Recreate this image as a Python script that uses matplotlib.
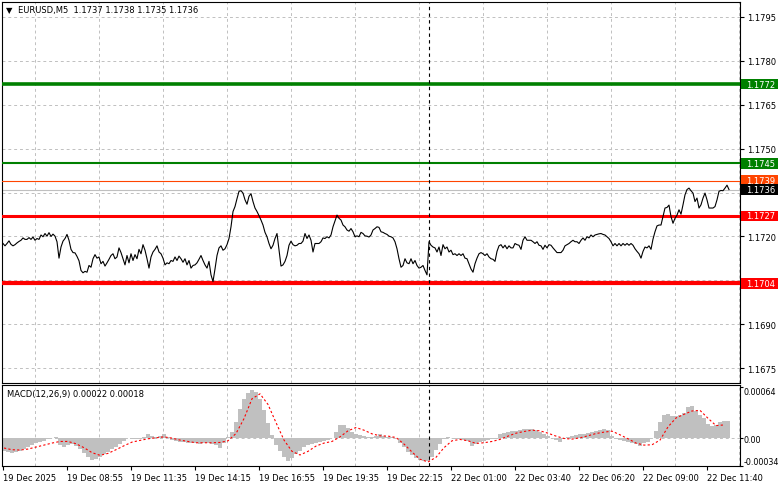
import numpy as np
import matplotlib.pyplot as plt
from matplotlib.patches import Rectangle
from matplotlib.transforms import blended_transform_factory

plt.rcParams['font.family'] = ['DejaVu Sans']
plt.rcParams['font.size'] = 6

# EURUSD M5 close prices, one value per bar
close = [
    1.17176, 1.17168, 1.17176, 1.17185, 1.17173, 1.17168, 1.17172, 1.17178, 1.17183, 1.17187,
    1.17195, 1.17190, 1.17190, 1.17196, 1.17190, 1.17198, 1.17187, 1.17193, 1.17190, 1.17205,
    1.17199, 1.17210, 1.17201, 1.17213, 1.17200, 1.17208, 1.17201, 1.17182, 1.17126, 1.17164,
    1.17184, 1.17193, 1.17207, 1.17187, 1.17156, 1.17145, 1.17144, 1.17132, 1.17117, 1.17084,
    1.17076, 1.17081, 1.17078, 1.17101, 1.17095, 1.17124, 1.17138, 1.17126, 1.17130, 1.17107,
    1.17115, 1.17099, 1.17110, 1.17122, 1.17135, 1.17141, 1.17124, 1.17130, 1.17161, 1.17145,
    1.17124, 1.17103, 1.17135, 1.17110, 1.17141, 1.17118, 1.17138, 1.17124, 1.17156, 1.17141,
    1.17172, 1.17153, 1.17124, 1.17092, 1.17130, 1.17147, 1.17156, 1.17168, 1.17147, 1.17141,
    1.17126, 1.17103, 1.17110, 1.17107, 1.17118, 1.17115, 1.17130, 1.17118, 1.17133, 1.17124,
    1.17112, 1.17124, 1.17103, 1.17118, 1.17092, 1.17101, 1.17103, 1.17110, 1.17122, 1.17135,
    1.17118, 1.17103, 1.17092, 1.17115, 1.17069, 1.17046, 1.17089, 1.17135, 1.17161, 1.17168,
    1.17153, 1.17158, 1.17172, 1.17193, 1.17233, 1.17285, 1.17302, 1.17329, 1.17354, 1.17356,
    1.17348, 1.17325, 1.17310, 1.17337, 1.17346, 1.17319, 1.17297, 1.17285, 1.17271, 1.17256,
    1.17239, 1.17214, 1.17199, 1.17176, 1.17158, 1.17170, 1.17193, 1.17210, 1.17153, 1.17099,
    1.17103, 1.17115, 1.17135, 1.17170, 1.17184, 1.17172, 1.17168, 1.17170, 1.17176, 1.17176,
    1.17184, 1.17210, 1.17193, 1.17205, 1.17187, 1.17147, 1.17176, 1.17176, 1.17176, 1.17182,
    1.17195, 1.17193, 1.17199, 1.17195, 1.17205, 1.17233, 1.17253, 1.17273, 1.17262, 1.17256,
    1.17239, 1.17233, 1.17222, 1.17218, 1.17227, 1.17216, 1.17199, 1.17202, 1.17199, 1.17214,
    1.17210, 1.17202, 1.17201, 1.17198, 1.17205, 1.17222, 1.17227, 1.17233, 1.17231, 1.17216,
    1.17214, 1.17210, 1.17207, 1.17201, 1.17199, 1.17195, 1.17182, 1.17158, 1.17124, 1.17095,
    1.17101, 1.17124, 1.17110, 1.17107, 1.17124, 1.17107, 1.17118, 1.17101, 1.17092, 1.17095,
    1.17101, 1.17084, 1.17069, 1.17182, 1.17170, 1.17164, 1.17161, 1.17147, 1.17164, 1.17135,
    1.17172, 1.17158, 1.17164, 1.17147, 1.17153, 1.17138, 1.17141, 1.17135, 1.17141, 1.17135,
    1.17141, 1.17126, 1.17124, 1.17107, 1.17089, 1.17078, 1.17107, 1.17126, 1.17141, 1.17145,
    1.17141, 1.17135, 1.17141, 1.17130, 1.17124,
    1.17122, 1.17115, 1.17149, 1.17168, 1.17172, 1.17161, 1.17170, 1.17158, 1.17168, 1.17161,
    1.17161, 1.17176, 1.17172, 1.17170, 1.17156, 1.17187, 1.17199, 1.17187, 1.17187, 1.17187,
    1.17182, 1.17176, 1.17182, 1.17170, 1.17168, 1.17156, 1.17170, 1.17161, 1.17172, 1.17170,
    1.17161, 1.17153, 1.17145, 1.17145, 1.17145, 1.17153, 1.17168, 1.17172, 1.17176, 1.17182,
    1.17187, 1.17182, 1.17182, 1.17176, 1.17187, 1.17195, 1.17187, 1.17199, 1.17195, 1.17205,
    1.17199, 1.17205, 1.17207, 1.17209, 1.17210, 1.17207, 1.17205, 1.17199, 1.17193, 1.17182,
    1.17168, 1.17176, 1.17168, 1.17176, 1.17168, 1.17176, 1.17170, 1.17176, 1.17170, 1.17176,
    1.17170,
    1.17158, 1.17149, 1.17141, 1.17126, 1.17149, 1.17164, 1.17161, 1.17168, 1.17156, 1.17191,
    1.17216, 1.17236, 1.17239, 1.17239, 1.17268, 1.17297, 1.17299, 1.17307, 1.17268, 1.17245,
    1.17262, 1.17273, 1.17291, 1.17276, 1.17308, 1.17342, 1.17360, 1.17365, 1.17356, 1.17348,
    1.17319, 1.17331, 1.17297, 1.17308, 1.17331, 1.17348, 1.17325, 1.17297, 1.17297, 1.17297,
    1.17302, 1.17325, 1.17354, 1.17357, 1.17356, 1.17365, 1.17375, 1.17360,
]

# MACD(12,26,9) main line, one value per two bars
macd_hist = [
    -0.000155, -0.000171, -0.000175, -0.000167, -0.000155, -0.000135, -0.000110, -0.000086, -0.000061, -0.000045,
    -0.000029, -0.000012, 0.000008, 0.000020, -0.000082, -0.000102, -0.000082, -0.000073, -0.000094, -0.000135,
    -0.000184, -0.000233, -0.000265, -0.000257, -0.000224, -0.000192, -0.000163, -0.000135, -0.000102, -0.000069,
    -0.000029, 0.000008, -0.000012, -0.000012, -0.000004, 0.000020, 0.000053, 0.000029, 0.000020, 0.000029,
    0.000053, 0.000012, -0.000020, -0.000029, -0.000041, -0.000049, -0.000053, -0.000061, -0.000061, -0.000065,
    -0.000061, -0.000061, -0.000069, -0.000086, -0.000122, -0.000061, 0.000020, 0.000082, 0.000204, 0.000367,
    0.000490, 0.000559,
    0.000600, 0.000571, 0.000490, 0.000347, 0.000192, 0.000041, -0.000082, -0.000155, -0.000224, -0.000273,
    -0.000245, -0.000196, -0.000151, -0.000110, -0.000082, -0.000069, -0.000057, -0.000045, -0.000033, -0.000020,
    0.000008, 0.000082, 0.000163, 0.000171, 0.000126, 0.000082, 0.000061, 0.000041, 0.000033, 0.000020,
    0.000012, 0.000029, 0.000049, 0.000033, 0.000020, 0.000012, 0.000000, -0.000061, -0.000110, -0.000163,
    -0.000204, -0.000245, -0.000265, -0.000282, -0.000273, -0.000224, -0.000143, -0.000069, -0.000008, 0.000012,
    0.000000, -0.000012, -0.000012, -0.000024, -0.000029, -0.000094, -0.000069, -0.000045, -0.000029, -0.000020,
    -0.000012,
    -0.000004, 0.000053, 0.000069, 0.000078, 0.000086, 0.000094, 0.000102, 0.000114, 0.000122, 0.000118,
    0.000102, 0.000082, 0.000053, 0.000029, 0.000008, -0.000020, -0.000041, -0.000008, 0.000020, 0.000033,
    0.000041, 0.000049, 0.000057, 0.000069, 0.000082, 0.000094, 0.000106, 0.000114, 0.000102, 0.000029,
    -0.000012, -0.000024, -0.000029, -0.000045, -0.000061, -0.000073, -0.000094, -0.000061, -0.000045, 0.000000,
    0.000094, 0.000204, 0.000294, 0.000298, 0.000282, 0.000277, 0.000286, 0.000314, 0.000388, 0.000404,
    0.000339, 0.000294, 0.000257, 0.000175, 0.000151, 0.000171, 0.000204, 0.000216, 0.000216,
]

# signal line, one value per four bars
macd_signal = [
    -0.000118, -0.000139, -0.000143, -0.000131, -0.000106, -0.000082, -0.000057, -0.000037, -0.000037, -0.000065,
    -0.000114, -0.000175, -0.000208, -0.000184, -0.000139, -0.000090, -0.000045, -0.000024, -0.000004, 0.000008,
    0.000020, 0.000004, -0.000020, -0.000037, -0.000053, -0.000053, -0.000053, -0.000049, -0.000029, 0.000061,
    0.000245,
    0.000490, 0.000551, 0.000420, 0.000196, -0.000020, -0.000159, -0.000204, -0.000159, -0.000094, -0.000057,
    -0.000037, 0.000020, 0.000094, 0.000135, 0.000102, 0.000057, 0.000033, 0.000029, 0.000012, -0.000069,
    -0.000167, -0.000257, -0.000290, -0.000233, -0.000114, -0.000029, -0.000012, -0.000029, -0.000061, -0.000053,
    -0.000037, -0.000012, 0.000029, 0.000065, 0.000086, 0.000102, 0.000094, 0.000065, 0.000029, 0.000000,
    -0.000008, 0.000008, 0.000033, 0.000061, 0.000078, 0.000090, 0.000045, -0.000004, -0.000057, -0.000082,
    -0.000078, -0.000020, 0.000143, 0.000253, 0.000298, 0.000339, 0.000347, 0.000249, 0.000159, 0.000167,
]

levels = [1.1772, 1.1745, 1.1739, 1.1727, 1.1704]
level_colors = ['#008000', '#008000', '#FF4500', '#FF0000', '#FF0000']
level_widths = [2.6, 1.5, 0.8, 2.2, 3.0]
last_price = 1.1736

price_ticks = [1.1675, 1.1690, 1.1705, 1.1720, 1.1735, 1.1750, 1.1765, 1.1780, 1.1795]
hidden_ticks = [1.1705, 1.1735]   # covered by the level boxes
macd_ticks = [-0.00034, 0.0, 0.00064]
macd_tick_labels = ['-0.00034', '0.00', '0.00064']
time_labels = ['19 Dec 2025', '19 Dec 08:55', '19 Dec 11:35', '19 Dec 14:15', '19 Dec 16:55',
               '19 Dec 19:35', '19 Dec 22:15', '22 Dec 01:00', '22 Dec 03:40', '22 Dec 06:20',
               '22 Dec 09:00', '22 Dec 11:40']
label_step = 32      # bars between time labels
grid_step = 16       # bars between vertical grid lines
day_start_bar = 213  # first bar of 22 Dec

W, H = 781, 489
fig = plt.figure(figsize=(W / 100, H / 100), dpi=100)
ax = fig.add_axes([2 / W, 1 - 384 / H, 738 / W, 381 / H])
axm = fig.add_axes([2 / W, 1 - 467 / H, 738 / W, 81 / H], sharex=ax)

grid_style = dict(color='#C0C0C0', lw=0.7, ls=(0, (3, 3)))

# price panel
bars = np.arange(len(close))
ax.plot(bars, close, color='black', lw=0.8, zorder=4)
ax.set_xlim(-0.5, 368.5)
ax.set_ylim(1.1670, 1.1800)
ax.yaxis.tick_right()
ax.set_yticks(price_ticks)
ax.set_yticklabels(['' if p in hidden_ticks else '%.4f' % p for p in price_ticks])
ax.tick_params(axis='y', direction='out', length=3, pad=2, labelsize=6, width=0.8)
ax.set_xticks(np.arange(0, 369, label_step))
ax.set_xticks(np.arange(grid_step, 369, grid_step), minor=True)
ax.tick_params(axis='x', which='both', length=0, labelbottom=False)
ax.grid(axis='y', **grid_style)
ax.grid(axis='x', which='minor', **grid_style)
ax.set_axisbelow(True)

tr = blended_transform_factory(ax.transAxes, ax.transData)
box_h = 0.00037
for lev, col, lw in zip(levels, level_colors, level_widths):
    ax.axhline(lev, color=col, lw=lw, zorder=3)
ax.axhline(last_price, color='#C0C0C0', lw=0.8, zorder=2)

box_levels = levels + [last_price]
box_colors = level_colors + ['black']
for lev, col in zip(box_levels, box_colors):
    ax.add_patch(Rectangle((1.0014, lev - box_h / 2), 0.0501, box_h, transform=tr,
                           facecolor=col, edgecolor='none', clip_on=False, zorder=6))
    ax.text(1.0081, lev, '%.4f' % lev, transform=tr, color='white', fontsize=6,
            ha='left', va='center', clip_on=False, zorder=7)

ax.axvline(day_start_bar, color='black', lw=0.8, ls=(0, (3, 3)), zorder=5)

fig.text(6 / W, 1 - 11 / H, '\u25bc', fontsize=6, ha='left', va='center')
fig.text(18 / W, 1 - 11 / H, 'EURUSD,M5  1.1737 1.1738 1.1735 1.1736', fontsize=6,
         ha='left', va='center')

# MACD panel
hist_bars = np.arange(len(macd_hist)) * 2 + 0.5
sig_bars = np.arange(len(macd_signal)) * 4 + 0.5
axm.axhline(0, zorder=0, **grid_style)
axm.bar(hist_bars, macd_hist, width=2, color='#C0C0C0', linewidth=0, zorder=2)
axm.plot(sig_bars, macd_signal, color='red', lw=0.8, ls=(0, (2, 2)), zorder=3)
axm.axvline(day_start_bar, color='black', lw=0.8, ls=(0, (3, 3)), zorder=5)
axm.set_ylim(-0.00034, 0.00066)
axm.yaxis.tick_right()
axm.set_yticks(macd_ticks)
axm.set_yticklabels(macd_tick_labels)
axm.tick_params(axis='y', direction='out', length=2, pad=0.5, labelsize=5.8, width=0.8)
yl = axm.get_yticklabels()
yl[0].set_va('bottom')
yl[2].set_va('top')
axm.grid(axis='x', which='minor', **grid_style)
axm.set_axisbelow(True)
axm.tick_params(axis='x', which='major', direction='out', length=3, width=0.8,
                pad=2, labelsize=6, labelbottom=True)
axm.tick_params(axis='x', which='minor', length=0)
axm.set_xticklabels(time_labels)
for t in axm.get_xticklabels():
    t.set_ha('left')

fig.text(7 / W, 1 - 395 / H, 'MACD(12,26,9) 0.00022 0.00018', fontsize=6,
         ha='left', va='center')

for a in (ax, axm):
    for s in a.spines.values():
        s.set_color('black')
        s.set_linewidth(0.8)

fig.savefig('out.png', dpi=100, facecolor='white')
